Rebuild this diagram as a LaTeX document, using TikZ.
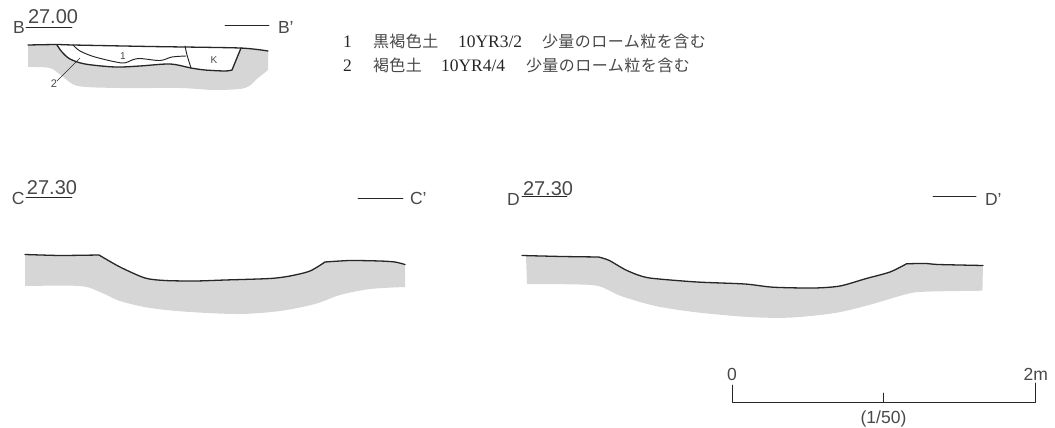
\documentclass[tikz,border=0pt]{standalone}
\usepackage{fontspec}
\setmainfont{Liberation Sans}
\newfontfamily\jp[LetterSpace=3]{Noto Sans CJK JP}
\newfontfamily\lat{Liberation Serif}
\definecolor{ink}{HTML}{262626}
\definecolor{txt}{HTML}{484848}
\definecolor{soil}{HTML}{D6D6D6}
\tikzset{
  inkline/.style={draw=ink,line width=1.3pt,line cap=round,line join=round},
  thinline/.style={draw=ink,line width=0.95pt,line cap=round,line join=round},
  lab/.style={anchor=base west,inner sep=0pt,outer sep=0pt,text=txt,font=\fontsize{17.5}{20}\selectfont},
  lev/.style={anchor=base west,inner sep=0pt,outer sep=0pt,text=txt,font=\fontsize{20}{22}\selectfont},
  small/.style={anchor=center,inner sep=0pt,outer sep=0pt,text=txt,font=\fontsize{10}{12}\selectfont},
  leg/.style={anchor=base west,inner sep=0pt,outer sep=0pt,text=txt,font=\fontsize{16}{18}\selectfont\jp},
  legl/.style={anchor=base west,inner sep=0pt,outer sep=0pt,text=ink,font=\fontsize{17.5}{18}\selectfont\lat},
}
\begin{document}
\begin{tikzpicture}[x=1pt,y=-1pt]
\useasboundingbox (0,0) rectangle (1055,428);
% ---------- B section
\fill[soil] (28,45) -- plot[smooth,tension=0.5] coordinates {(57,45) (62,52) (70,59) (85,64) (115,67) (140,66) (170,64) (191,68) (205,70) (225,71) (232,70)}
  -- (241,48) -- (268,51) -- (268,70)
  -- plot[smooth,tension=0.5] coordinates {(268,70) (258,78) (245,88) (215,90) (180,88) (120,88) (78,86) (62,76) (50,68) (28,67)} -- cycle;
\draw[inkline] plot[smooth,tension=0.4] coordinates {(28,45) (57,44.5) (73,45) (150,46.5) (240,48) (268,51)};
\draw[inkline] plot[smooth,tension=0.5] coordinates {(57,45) (62,52) (70,59) (85,64) (115,67) (140,66) (170,64) (191,68) (205,70) (225,71) (232,70)};
\draw[inkline] (232,70) -- (241,48);
\draw[thinline] plot[smooth,tension=0.3] coordinates {(185,46) (187,55) (191,68)};
\draw[thinline] plot[smooth,tension=0.5] coordinates {(73,45) (80,51) (95,57) (122,63) (132,60) (140,58.5) (160,60.5) (172,57) (186,56)};
\node[small] (n1) at (123,56) {1};
\node[small] (nK) at (214,60) {K};
\node[small,font=\fontsize{11}{12}\selectfont] (n2) at (54,84) {2};
\coordinate (layer2) at (80,58);
\draw[draw=ink,line width=0.6pt] (n2) -- (layer2);
\node[lab] (tB) at (13,34) {B};
\node[lev] (lB) at (28,24) {27.00};
\coordinate (ulB1) at (26,27.5); \coordinate (ulB2) at (72,27.5);
\draw[thinline] (ulB1) -- (ulB2);
\coordinate (lnB1) at (225,25); \coordinate (lnB2) at (269,25);
\draw[thinline] (lnB1) -- (lnB2);
\node[lab] (tBp) at (278,34) {B'};
% ---------- legend
\node[legl] (k1) at (343,48) {1};
\node[leg] (a1) at (373,48) {黒褐色土};
\node[legl] (b1) at (458,48) {10YR3/2};
\node[leg] (c1) at (542,48) {少量のローム粒を含む};
\node[legl] (k2) at (343,72) {2};
\node[leg] (a2) at (373,72) {褐色土};
\node[legl] (b2) at (441,72) {10YR4/4};
\node[leg] (c2) at (526,72) {少量のローム粒を含む};
% ---------- C section
\fill[soil] plot[smooth,tension=0.3] coordinates {(25,254.5) (60,255.5) (99,255)}
  -- plot[smooth,tension=0.45] coordinates {(99,255) (120,267) (145,278) (165,280.5) (195,281) (225,280) (270,278.5) (290,276) (310,271) (325,262)}
  -- plot[smooth,tension=0.4] coordinates {(325,262) (350,260.5) (380,261) (395,262) (405,264.5)}
  -- plot[smooth,tension=0.5] coordinates {(405,287) (370,289) (340,295) (315,304) (280,311) (240,314) (190,312) (150,308) (120,301) (100,292) (80,286) (25,286)} -- cycle;
\draw[inkline] plot[smooth,tension=0.3] coordinates {(25,254.5) (60,255.5) (99,255)}
  -- plot[smooth,tension=0.45] coordinates {(99,255) (120,267) (145,278) (165,280.5) (195,281) (225,280) (270,278.5) (290,276) (310,271) (325,262)}
  -- plot[smooth,tension=0.4] coordinates {(325,262) (350,260.5) (380,261) (395,262) (405,264.5)};
\node[lab] (tC) at (12,204) {C};
\node[lev] (lC) at (27,194) {27.30};
\coordinate (ulC1) at (26,197.5); \coordinate (ulC2) at (72,197.5);
\draw[thinline] (ulC1) -- (ulC2);
\coordinate (lnC1) at (358,198); \coordinate (lnC2) at (403,198);
\draw[thinline] (lnC1) -- (lnC2);
\node[lab] (tCp) at (410,204) {C'};
% ---------- D section
\fill[soil] plot[smooth,tension=0.3] coordinates {(526,256) (562,256.5) (598.6,257)}
  -- plot[smooth,tension=0.45] coordinates {(598.6,257) (609,260.3) (624.5,269.3) (638,275) (652,278.3) (697,282) (745,284) (773,287.2) (814,288) (840,286) (866,278.6) (890,272) (906.5,263.8)}
  -- plot[smooth,tension=0.3] coordinates {(906.5,263.8) (924.5,263.4) (938,264.5) (983,265.5)}
  -- plot[smooth,tension=0.5] coordinates {(982.4,290.7) (924.5,291.7) (907,294) (869,305) (835,313) (790,317.6) (748.6,317) (697,312.4) (655.5,306) (621,296) (600,286.5) (580,284.5) (527,284)} -- cycle;
\draw[inkline] plot[smooth,tension=0.3] coordinates {(522,255.5) (562,256.5) (598.6,257)}
  -- plot[smooth,tension=0.45] coordinates {(598.6,257) (609,260.3) (624.5,269.3) (638,275) (652,278.3) (697,282) (745,284) (773,287.2) (814,288) (840,286) (866,278.6) (890,272) (906.5,263.8)}
  -- plot[smooth,tension=0.3] coordinates {(906.5,263.8) (924.5,263.4) (938,264.5) (983,265.5)};
\node[lab] (tD) at (507,205) {D};
\node[lev] (lD) at (523,195) {27.30};
\coordinate (ulD1) at (522,196.5); \coordinate (ulD2) at (567,196.5);
\draw[thinline] (ulD1) -- (ulD2);
\coordinate (lnD1) at (933,196); \coordinate (lnD2) at (976,196);
\draw[thinline] (lnD1) -- (lnD2);
\node[lab] (tDp) at (985,205) {D'};
% ---------- scale
\coordinate (s0) at (732,385); \coordinate (s1) at (732,402);
\coordinate (s2) at (1035,402); \coordinate (s3) at (1035,383);
\coordinate (sm) at (883.5,402); \coordinate (st) at (883.5,393);
\draw[thinline] (s0) -- (s1) -- (s2) -- (s3);
\draw[thinline] (sm) -- (st);
\node[lab,anchor=base] (z0) at (732,380) {0};
\node[lab,anchor=base east] (z2) at (1048,380) {2m};
\node[lab,anchor=base] (zr) at (883.5,423) {(1/50)};
\end{tikzpicture}
\end{document}
